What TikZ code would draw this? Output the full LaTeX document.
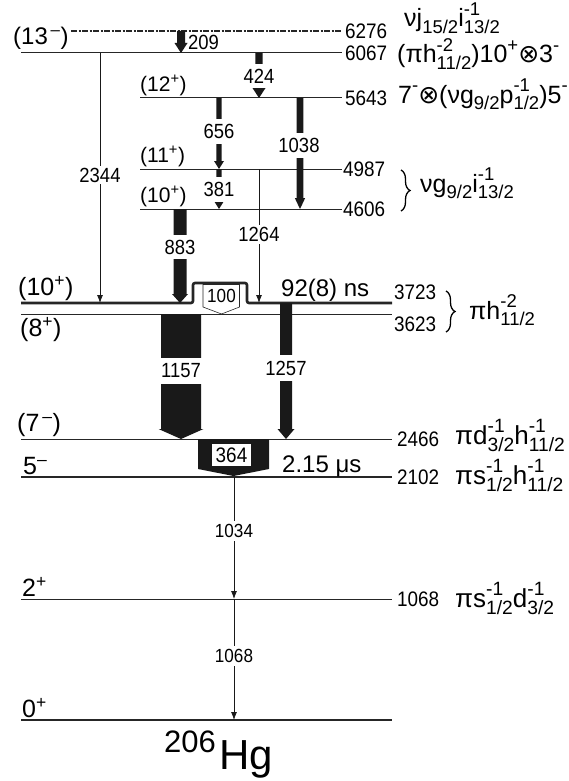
\documentclass[tikz,border=0pt]{standalone}
\usepackage{fontspec}
\setmainfont{Liberation Sans}
\newfontfamily\numfont[FakeStretch=0.9]{Liberation Sans}
\newfontfamily\dvsfont{DejaVu Sans}
\usetikzlibrary{arrows.meta,decorations.pathreplacing}

\makeatletter
\newcommand{\scr}{\fontsize{\fpeval{0.74*\f@size}}{0}\selectfont}
\makeatother
\newcommand{\fsz}[1]{\fontsize{#1}{#1}\selectfont}
%% stacked super- and subscript, the subscript being the wider one
\newcommand{\ud}[2]{\makebox[0pt][l]{\raisebox{0.45em}{\scr #1}}\raisebox{-0.27em}{\scr #2}}
\newcommand{\dn}[1]{\raisebox{-0.27em}{\scr #1}}
\newcommand{\up}[1]{\raisebox{0.45em}{\scr #1}}
\newcommand{\ox}{{\dvsfont ⊗}}

\begin{document}
\begin{tikzpicture}[x=1pt, y=-1pt,
  lvl/.style={black!85, line width=1pt},
  gslvl/.style={black!85, line width=2.6pt},
  gthin/.style={black!90, line width=0.8pt, -{Latex[length=8pt, width=6pt]}},
  glab/.style={fill=white, inner xsep=1.5pt, inner ysep=5pt, font=\numfont\fsz{20.5}},
  elab/.style={anchor=west, inner sep=0pt, font=\numfont\fsz{21}},
  spin/.style={anchor=south west, inner sep=0pt, font=\fsz{25}},
  conf/.style={anchor=base west, inner sep=0pt, font=\fsz{25}},
  brc/.style={decorate, decoration={brace, amplitude=9pt}, line width=1.3pt},
]
\useasboundingbox (0,0) rectangle (568,781);

%% level heights, in pixel rows (y grows downwards)
\def\yA{31}  % 6276
\def\yB{53}  % 6067
\def\yC{98}  % 5643
\def\yD{169} % 4987
\def\yE{209} % 4606
\def\yF{303} % 3723
\def\yG{314} % 3623
\def\yH{439} % 2466
\def\yI{477} % 2102
\def\yJ{599} % 1068
\def\yK{720} % 0

%% ---------- levels ----------
\draw[lvl, line width=1.2pt, dash pattern=on 6pt off 1.5pt on 2pt off 1.5pt] (71,\yA) -- (342,\yA);
\draw[lvl] (21,\yB) -- (342,\yB);
\foreach \y in {\yC, \yD, \yE}
  \draw[lvl] (140,\y) -- (342,\y);
\draw[gslvl, rounded corners=2pt]
  (21,\yF) -- (193,\yF) -- (193,283) -- (247,283) -- (247,\yF) -- (392,\yF);
\foreach \y in {\yG, \yH, \yJ}
  \draw[lvl] (21,\y) -- (392,\y);
\foreach \y in {\yI, \yK}
  \draw[gslvl] (21,\y) -- (392,\y);

%% ---------- thin transitions ----------
\draw[gthin] (100,\yB) -- (100,\yF);
\draw[gthin] (259,\yD) -- (259,\yF);
\draw[gthin] (234,\yI) -- (234,\yJ);
\draw[gthin] (234,\yJ) -- (234,\yK);

%% ---------- thick transitions: x / from / to / half shaft / half head / head length ----------
\foreach \x/\ta/\tb/\sw/\hw/\hl in {181/\yA/\yB/4/6.5/10, 259/\yB/\yC/3.6/6.5/10,
    219/\yC/\yD/2.7/5/8, 219/\yD/\yE/2.7/5/8, 300/\yC/\yE/3.3/5.2/11,
    180/\yE/\yF/6.5/8/9, 181/\yG/\yH/20/22.5/10, 286/\yF/\yH/6/8.5/10}
  \fill[black!90] (\x-\sw,\ta) -- (\x+\sw,\ta) -- (\x+\sw,\tb-\hl) -- (\x+\hw,\tb-\hl)
    -- (\x,\tb) -- (\x-\hw,\tb-\hl) -- (\x-\sw,\tb-\hl) -- cycle;

%% 364 and 100
\fill[black!90] (198,\yH) -- (269,\yH) -- (269,469) -- (233.5,476) -- (198,469) -- cycle;
\filldraw[fill=white, draw=black!85, line width=0.6pt]
  (203,284.5) -- (239.5,284.5) -- (239.5,307) -- (221.5,\yG) -- (203,307) -- cycle;

%% ---------- transition energies ----------
\node[font=\numfont\fsz{20.5}, anchor=west, inner sep=0pt] (g209) at (188,42) {209};
\node[glab] (g424) at (259,76) {424};
\node[glab] (g656) at (219,131.5) {656};
\node[glab] (g1038) at (299,145.5) {1038};
\node[glab] (g381) at (219,189.5) {381};
\node[glab, inner ysep=2pt] (g2344) at (100,175) {2344};
\node[glab, inner ysep=2pt] (g1264) at (259,234.5) {1264};
\node[glab] (g883) at (180,247) {883};
\node[glab, inner ysep=5.5pt] (g1157) at (181,371) {1157};
\node[glab, inner ysep=5.5pt] (g1257) at (286,368) {1257};
\node[font=\numfont\fsz{19}, inner sep=0pt] (g100) at (221.5,296) {100};
\node[fill=white, inner xsep=4pt, inner ysep=4pt, font=\numfont\fsz{21}] (g364) at (231.5,455) {364};
\node[glab, font=\numfont\fsz{19}, inner ysep=3pt] (g1034) at (234,531) {1034};
\node[glab, font=\numfont\fsz{19}, inner ysep=3pt] (g1068) at (234,656) {1068};

%% ---------- half-lives ----------
\node[anchor=base west, inner sep=0pt, font=\fsz{24}] (t3723) at (281,296) {92(8) ns};
\node[anchor=base west, inner sep=0pt, font=\fsz{24}] (t2102) at (282,472) {2.15 μs};

%% ---------- spins ----------
\node[spin, font=\fsz{24}] (s13) at (13,50) {(13\textsuperscript{\,–})};
\node[spin, font=\fsz{21}] (s12) at (140,96) {(12\textsuperscript{+})};
\node[spin, font=\fsz{21}] (s11) at (140,167) {(11\textsuperscript{+})};
\node[spin, font=\fsz{21}] (s10a) at (140,207) {(10\textsuperscript{+})};
\node[spin] (s10b) at (18,301) {(10\textsuperscript{+})};
\node[spin, anchor=north west] (s8) at (20,317) {(8\textsuperscript{+})};
\node[spin] (s7) at (17,437) {(7\textsuperscript{\,–})};
\node[spin] (s5) at (23,475) {5\textsuperscript{–}};
\node[spin] (s2) at (22,597) {2\textsuperscript{+}};
\node[spin] (s0) at (22,718) {0\textsuperscript{+}};

%% ---------- level energies ----------
\node[elab] (e6276) at (345,\yA) {6276};
\node[elab] (e6067) at (345,\yB) {6067};
\node[elab] (e5643) at (345,\yC) {5643};
\node[elab] (e4987) at (343,\yD) {4987};
\node[elab] (e4606) at (343,\yE) {4606};
\node[elab] (e3723) at (394,292) {3723};
\node[elab] (e3623) at (394,324) {3623};
\node[elab] (e2466) at (397,\yH) {2466};
\node[elab] (e2102) at (397,\yI) {2102};
\node[elab] (e1068) at (397,\yJ) {1068};

%% ---------- configurations ----------
\node[conf] (c6276) at (404,27) {νj\dn{15/2}i\ud{-1}{13/2}};
\node[conf] (c6067) at (397,63) {(πh\ud{-2}{11/2})10\up{+}\ox3\up{-}};
\node[conf] (c5643) at (398,103) {7\up{-}\ox(νg\dn{9/2}p\ud{-1}{1/2})5\up{-}};
\draw[brc] (401,170) -- (401,211);
\node[conf] (c4606) at (420,192) {νg\dn{9/2}i\ud{-1}{13/2}};
\draw[brc] (446,291) -- (446,332);
\node[conf] (c3723) at (469,319) {πh\ud{-2}{11/2}};
\node[conf, font=\fsz{26}] (c2466) at (455,444) {πd\ud{-1}{3/2}h\ud{-1}{11/2}};
\node[conf, font=\fsz{26}] (c2102) at (455,484) {πs\ud{-1}{1/2}h\ud{-1}{11/2}};
\node[conf, font=\fsz{26}] (c1068) at (455,607) {πs\ud{-1}{1/2}d\ud{-1}{3/2}};

%% ---------- nucleus ----------
\node[anchor=base west, inner sep=0pt, font=\fsz{31}] (a206) at (164,752) {206};
\node[anchor=base west, inner sep=0pt, font=\fsz{42}] (nHg) at (219,769) {Hg};

\end{tikzpicture}
\end{document}
